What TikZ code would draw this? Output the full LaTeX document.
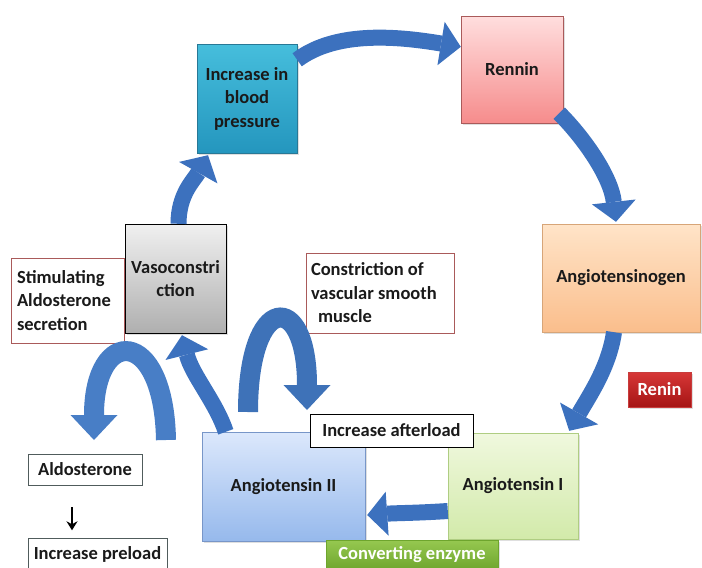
\documentclass[tikz,border=0pt]{standalone}
\usepackage{fontspec}
\setmainfont{Carlito}
\usetikzlibrary{arrows.meta,shadows}
\definecolor{txt}{RGB}{26,26,26}
\definecolor{arrowblue}{RGB}{60,113,190}
\definecolor{arcblue}{RGB}{72,126,198}
\definecolor{arcblue2}{RGB}{62,114,184}
\definecolor{tealtop}{RGB}{70,190,220}
\definecolor{tealbot}{RGB}{36,150,190}
\definecolor{tealline}{RGB}{40,120,150}
\definecolor{pinktop}{RGB}{255,222,222}
\definecolor{pinkbot}{RGB}{246,140,140}
\definecolor{pinkline}{RGB}{170,90,90}
\definecolor{peachtop}{RGB}{255,228,200}
\definecolor{peachbot}{RGB}{250,190,140}
\definecolor{peachline}{RGB}{215,165,120}
\definecolor{graytop}{RGB}{240,240,240}
\definecolor{graybot}{RGB}{175,175,175}
\definecolor{bluetop}{RGB}{220,232,252}
\definecolor{bluebot}{RGB}{150,185,236}
\definecolor{blueline}{RGB}{120,150,200}
\definecolor{greentop}{RGB}{240,248,222}
\definecolor{greenbot}{RGB}{210,234,170}
\definecolor{greenline}{RGB}{175,205,130}
\definecolor{enztop}{RGB}{150,200,80}
\definecolor{enzbot}{RGB}{110,165,45}
\definecolor{redtop}{RGB}{215,55,55}
\definecolor{redbot}{RGB}{165,20,20}
\definecolor{redline}{RGB}{200,60,60}
\definecolor{slateline}{RGB}{80,92,92}
\begin{document}
\begin{tikzpicture}[x=1pt,y=-1pt,
  every node/.style={font=\bfseries\fontsize{18.5}{23.5}\selectfont,text=txt,inner sep=0pt},
  box/.style={rectangle,align=center},
  shadowed/.style={drop shadow={shadow xshift=1.5pt,shadow yshift=-2pt,opacity=.25}},
  bigarrow/.style={draw=arrowblue,line width=16pt,
    -{Triangle[width=44pt,length=20pt,line width=0pt]}},
  arcarrow/.style={line width=20pt,
    -{Triangle[width=47pt,length=25pt,line width=0pt]}},
  smallarrow/.style={draw=black,line width=2pt,-{Stealth[length=9pt,width=11pt]}}
]
\useasboundingbox (0,0) rectangle (702,568);

% coloured boxes
\node[box,shadowed,draw=tealline,top color=tealtop,bottom color=tealbot,
  minimum width=100pt,minimum height=109pt] (bp) at (247,98.5)
  {Increase in\\blood\\pressure};
\node[box,shadowed,draw=pinkline,top color=pinktop,bottom color=pinkbot,
  minimum width=102pt,minimum height=107pt] (rennin) at (512,69.5) {Rennin};
\node[box,shadowed,draw=peachline,top color=peachtop,bottom color=peachbot,
  minimum width=158pt,minimum height=108pt] (angen) at (621,278) {Angiotensinogen};
\node[box,shadowed,draw=black,top color=graytop,bottom color=graybot,
  minimum width=101pt,minimum height=109pt] (vaso) at (175.5,278.5)
  {Vasoconstri\\ction};
\node[box,shadowed,draw=blueline,top color=bluetop,bottom color=bluebot,
  minimum width=163pt,minimum height=109pt] (ang2) at (283.5,486.5) {Angiotensin II};
\node[box,shadowed,draw=greenline,top color=greentop,bottom color=greenbot,
  minimum width=130pt,minimum height=106pt] (ang1) at (513,486) {Angiotensin I};

% text boxes
\node[rectangle,draw=pinkline,fill=white,align=flush left,text width=101pt,
  inner xsep=6pt,minimum height=85pt] (stim) at (67.5,300.5)
  {Stimulating\\Aldosterone\\secretion};
\node[rectangle,draw=pinkline,fill=white,align=flush left,text width=138pt,
  inner xsep=5pt,minimum height=80pt] (constr) at (380,293)
  {Constriction of\\vascular smooth\\\hspace*{7pt}muscle};
\node[box,draw=slateline,fill=white,minimum width=114pt,minimum height=31pt]
  (aldo) at (85,469.5) {Aldosterone};
\node[box,draw=slateline,fill=white,minimum width=139pt,minimum height=31pt]
  (preload) at (97.5,554) {Increase preload};
\node[box,draw=black,line width=1pt,fill=white,minimum width=163pt,minimum height=33pt]
  (afterload) at (391.5,430.5) {Increase afterload};
\node[box,shadowed,draw=enzbot,top color=enztop,bottom color=enzbot,text=white,
  minimum width=172pt,minimum height=30pt] (convert) at (412,555) {Converting enzyme};
\node[box,shadowed,draw=redline,top color=redtop,bottom color=redbot,text=white,
  minimum width=63pt,minimum height=35pt] (renin) at (659.5,389.5) {Renin};

% main cycle arrows
\draw[bigarrow] ([yshift=-16pt]bp.north east)
  .. controls +(40,-30) and +(-60,-10) .. ([yshift=-31pt]rennin.north west);
\draw[bigarrow] ([xshift=-4pt,yshift=10pt]rennin.south east)
  .. controls +(25,25) and +(-5,-45) .. ([xshift=-5pt,yshift=2pt]angen.north);
\draw[bigarrow] ([xshift=-7pt]angen.south)
  .. controls +(-5,35) and +(20,-35) .. ([xshift=-9pt,yshift=2pt]ang1.north east);
\draw[bigarrow] ([yshift=-25pt]ang1.west)
  .. controls +(-30,2) and +(30,-2) .. ([xshift=2pt,yshift=-28.5pt]ang2.east);
\draw[bigarrow] ([xshift=24pt]ang2.north west)
  .. controls +(-10,-30) and +(10,40) .. ([xshift=6.5pt,yshift=-2pt]vaso.south);
\draw[bigarrow] ([xshift=3pt]vaso.north)
  .. controls +(0,-30) and +(-14,25) .. ([xshift=-39pt,yshift=-2pt]bp.south);

% loop arrows
\coordinate (la1) at (166,440);
\coordinate (la2) at (94,440);
\draw[arcarrow,draw=arcblue] (la1) .. controls +(-2,-114) and +(0,-114) .. (la2);
\coordinate (ra1) at (248,412);
\coordinate (ra2) at (307,410);
\draw[arcarrow,draw=arcblue2] (ra1) .. controls +(0,-120) and +(0,-120) .. (ra2);

% aldosterone -> preload
\draw[smallarrow,shorten <=22pt,shorten >=8pt]
  ([xshift=-13pt]aldo.south) -- ([xshift=-25.5pt]preload.north);
\end{tikzpicture}
\end{document}
